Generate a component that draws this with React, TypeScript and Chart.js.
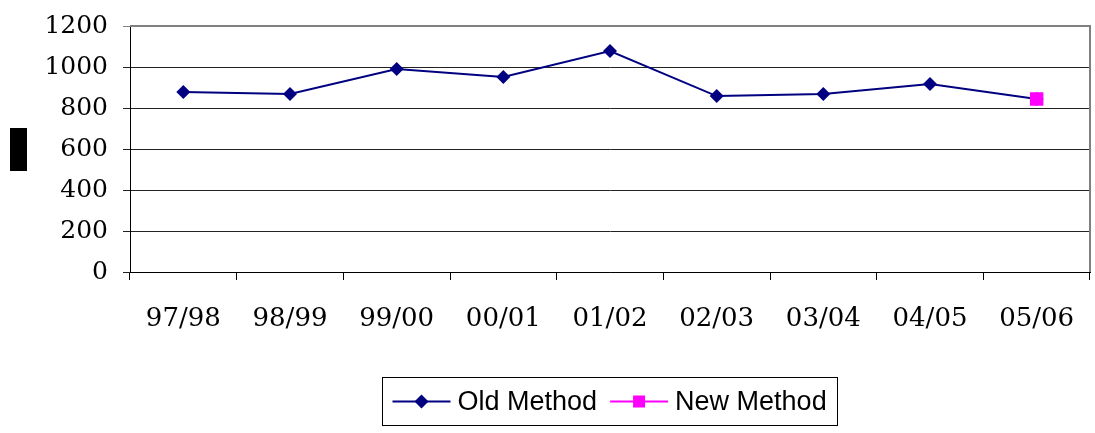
import React, { useEffect, useRef } from "react";
import { Chart, registerables } from "chart.js";

Chart.register(...registerables);

const categories = ["97/98", "98/99", "99/00", "00/01", "01/02", "02/03", "03/04", "04/05", "05/06"];
const oldMethod = [878, 868, 990, 951, 1078, 858, 868, 917, 844];
const newMethod = [null, null, null, null, null, null, null, null, 844];
const seriesNames = ["Old Method", "New Method"];
const yMin = 0;
const yMax = 1200;
const yStep = 200;

const NAVY = "#000080";
const PINK = "#FF00FF";
const SERIF = '"DejaVu Serif", serif';
const SANS = '"Liberation Sans", Arial, sans-serif';

const framePlugin = {
  id: "frame",
  afterDraw(chart: any) {
    const { ctx, chartArea } = chart;
    const { left, right, top, bottom } = chartArea;
    ctx.save();
    // top & right border (gray)
    ctx.strokeStyle = "#808080";
    ctx.lineWidth = 2;
    ctx.beginPath();
    ctx.moveTo(left, top);
    ctx.lineTo(right, top);
    ctx.lineTo(right, bottom);
    ctx.stroke();
    // blacked-out axis title
    const cy = (top + bottom) / 2;
    ctx.fillStyle = "#000";
    ctx.fillRect(10, cy - 21, 17, 43);

    // legend
    ctx.font = "27px " + SANS;
    ctx.textBaseline = "middle";
    ctx.textAlign = "left";
    const w0 = ctx.measureText(seriesNames[0]).width;
    const w1 = ctx.measureText(seriesNames[1]).width;
    const lineLen = 58;
    const total = 10 + lineLen + 7 + w0 + 13 + lineLen + 7 + w1 + 11;
    const bx = Math.round((left + right) / 2 - total / 2) + 0.5;
    const by = 377.5;
    const bh = 48;
    ctx.strokeStyle = "#000";
    ctx.lineWidth = 1;
    ctx.strokeRect(bx, by, Math.round(total), bh);
    const ly = by + bh / 2;
    let x = bx + 10;
    // Old method
    ctx.strokeStyle = NAVY;
    ctx.lineWidth = 2;
    ctx.beginPath();
    ctx.moveTo(x, ly);
    ctx.lineTo(x + lineLen, ly);
    ctx.stroke();
    const mx = x + lineLen / 2;
    ctx.fillStyle = NAVY;
    ctx.beginPath();
    ctx.moveTo(mx - 7, ly);
    ctx.lineTo(mx, ly - 7);
    ctx.lineTo(mx + 7, ly);
    ctx.lineTo(mx, ly + 7);
    ctx.closePath();
    ctx.fill();
    x += lineLen + 7;
    ctx.fillStyle = "#000";
    ctx.fillText(seriesNames[0], x, ly + 1);
    x += w0 + 13;
    // New method
    ctx.strokeStyle = PINK;
    ctx.beginPath();
    ctx.moveTo(x, ly);
    ctx.lineTo(x + lineLen, ly);
    ctx.stroke();
    const mx2 = x + lineLen / 2;
    ctx.fillStyle = PINK;
    ctx.fillRect(mx2 - 6, ly - 6, 12, 12);
    x += lineLen + 7;
    ctx.fillStyle = "#000";
    ctx.fillText(seriesNames[1], x, ly + 1);
    ctx.restore();
  },
};

export default function App() {
  const ref = useRef<HTMLCanvasElement | null>(null);
  useEffect(() => {
    if (!ref.current) return;
    const chart = new Chart(ref.current, {
      type: "line",
      data: {
        labels: categories,
        datasets: [
          {
            label: seriesNames[0],
            data: oldMethod,
            borderColor: NAVY,
            backgroundColor: NAVY,
            borderWidth: 2,
            pointStyle: "rectRot",
            pointRadius: 7,
            pointBorderWidth: 0,
            tension: 0,
            order: 2,
          },
          {
            label: seriesNames[1],
            data: newMethod,
            borderColor: PINK,
            backgroundColor: PINK,
            borderWidth: 2,
            pointStyle: "rect",
            pointRadius: 9.5,
            pointBorderWidth: 0,
            order: 1,
          },
        ],
      },
      options: {
        animation: false,
        responsive: false,
        maintainAspectRatio: false,
        layout: { autoPadding: false, padding: { left: 0, right: 5, top: 26, bottom: 0 } },
        plugins: {
          legend: { display: false },
          tooltip: { enabled: false },
          title: { display: false },
        },
        scales: {
          x: {
            type: "category",
            offset: true,
            grid: {
              offset: true,
              drawOnChartArea: false,
              drawTicks: true,
              tickLength: 8,
              color: "#000",
            },
            border: { color: "#000", width: 1 },
            ticks: {
              color: "#000",
              font: { family: SERIF, size: 26 },
              padding: 24,
              maxRotation: 0,
              autoSkip: false,
            },
            afterFit(scale: any) {
              scale.height = 433 - 272;
              scale.paddingLeft = 0;
              scale.paddingRight = 0;
            },
          },
          y: {
            min: yMin,
            max: yMax,
            grid: {
              color: (c: any) => (c.tick && c.tick.value === yMax ? "#808080" : "#222"),
              lineWidth: 1,
              tickLength: 7,
            },
            border: { color: "#000", width: 1 },
            ticks: {
              stepSize: yStep,
              color: "#000",
              font: { family: SERIF, size: 25 },
              padding: 15,
              callback: (v: any) => String(v),
            },
            afterFit(scale: any) {
              scale.width = 130;
              scale.paddingTop = 0;
              scale.paddingBottom = 0;
            },
          },
        },
      },
      plugins: [framePlugin],
    });
    return () => chart.destroy();
  }, []);
  return (
    <div style={{ position: "fixed", left: 0, top: 0, width: 1095, height: 433, background: "#fff" }}>
      <canvas ref={ref} width={1095} height={433} style={{ display: "block" }} />
    </div>
  );
}
